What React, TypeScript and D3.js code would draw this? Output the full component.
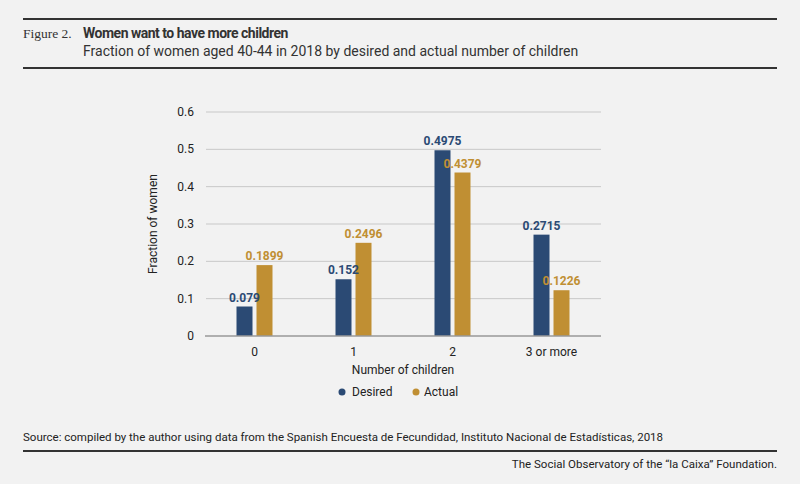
import React from "react";
import * as d3 from "d3";

const categories = ["0", "1", "2", "3 or more"];
const desired = [0.079, 0.152, 0.4975, 0.2715];
const actual = [0.1899, 0.2496, 0.4379, 0.1226];
const desiredLabels = ["0.079", "0.152", "0.4975", "0.2715"];
const actualLabels = ["0.1899", "0.2496", "0.4379", "0.1226"];
const yTicks = [0, 0.1, 0.2, 0.3, 0.4, 0.5, 0.6];

const BLUE = "#2b4a74";
const GOLD = "#c08f33";
const FONT = "Roboto, 'Liberation Sans', sans-serif";

export default function App() {
  const W = 800, H = 484;
  const x = d3.scaleBand().domain(categories).range([205, 601]).paddingInner(0).paddingOuter(0);
  const y = d3.scaleLinear().domain([0, 0.6]).range([336, 112]);
  const bw = 16;
  const gap = 4;

  return (
    <svg width={W} height={H} style={{ position: "absolute", left: 0, top: 0, background: "#f2f2f2" }}>
      <rect width={W} height={H} fill="#f2f2f2" />
      <line x1={23} x2={777} y1={19} y2={19} stroke="#333" strokeWidth={2} />
      <text x={23} y={38} fontFamily="'Liberation Serif', serif" fontSize={13.5} fill="#333">Figure 2.</text>
      <text x={83} y={38} fontFamily={FONT} fontSize={14} fontWeight="bold" fill="#333" letterSpacing={-0.5}>Women want to have more children</text>
      <text x={83} y={56} fontFamily={FONT} fontSize={14} fill="#333">Fraction of women aged 40-44 in 2018 by desired and actual number of children</text>
      <line x1={23} x2={777} y1={68} y2={68} stroke="#333" strokeWidth={2} />

      {yTicks.map((t) => (
        <g key={t}>
          {t > 0 && <line x1={206} x2={601} y1={y(t)} y2={y(t)} stroke="#c8c8c8" strokeWidth={1} />}
          <text x={194} y={y(t) + 4} textAnchor="end" fontFamily={FONT} fontSize={12} fill="#222">{t === 0 ? "0" : t.toString()}</text>
        </g>
      ))}
      <text transform={`translate(157,224) rotate(-90)`} textAnchor="middle" fontFamily={FONT} fontSize={12} fill="#222">Fraction of women</text>

      {categories.map((c, i) => {
        const cx = x(c)! + x.bandwidth() / 2;
        return (
          <g key={c}>
            <rect x={cx - gap / 2 - bw} y={y(desired[i])} width={bw} height={y(0) - y(desired[i])} fill={BLUE} />
            <rect x={cx + gap / 2} y={y(actual[i])} width={bw} height={y(0) - y(actual[i])} fill={GOLD} />
            <text x={cx - gap / 2 - bw / 2} y={y(desired[i]) - 5} textAnchor="middle" fontFamily={FONT} fontSize={12} fontWeight="bold" fill={BLUE}>{desiredLabels[i]}</text>
            <text x={cx + gap / 2 + bw / 2} y={y(actual[i]) - 5} textAnchor="middle" fontFamily={FONT} fontSize={12} fontWeight="bold" fill={GOLD}>{actualLabels[i]}</text>
            <text x={cx} y={356} textAnchor="middle" fontFamily={FONT} fontSize={12} fill="#222">{c}</text>
          </g>
        );
      })}
      <line x1={205} x2={601} y1={y(0)} y2={y(0)} stroke="#999" strokeWidth={1.5} />
      <text x={403} y={374} textAnchor="middle" fontFamily={FONT} fontSize={12} fill="#222">Number of children</text>

      <circle cx={342} cy={392} r={3.5} fill={BLUE} />
      <text x={352} y={396} fontFamily={FONT} fontSize={12} fill="#222">Desired</text>
      <circle cx={416} cy={392} r={3.5} fill={GOLD} />
      <text x={424} y={396} fontFamily={FONT} fontSize={12} fill="#222">Actual</text>

      <text x={23} y={441} fontFamily={FONT} fontSize={11.5} fill="#222">Source: compiled by the author using data from the Spanish Encuesta de Fecundidad, Instituto Nacional de Estadísticas, 2018</text>
      <line x1={23} x2={777} y1={451} y2={451} stroke="#333" strokeWidth={2} />
      <text x={777} y={468} textAnchor="end" fontFamily={FONT} fontSize={11.5} fill="#222">The Social Observatory of the “la Caixa” Foundation.</text>
    </svg>
  );
}
